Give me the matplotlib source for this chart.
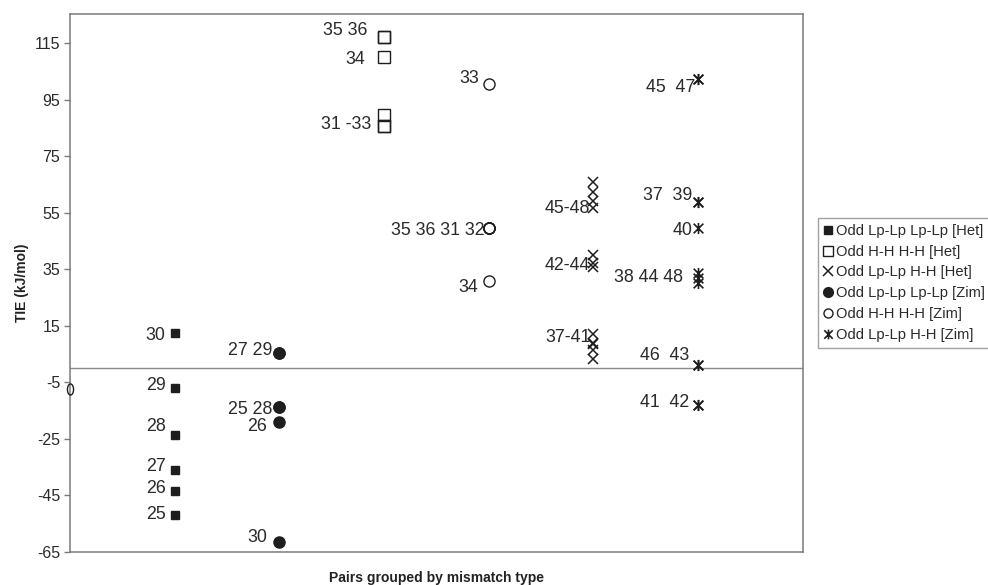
import matplotlib
matplotlib.use("Agg")
import matplotlib.pyplot as plt
from matplotlib.path import Path
from matplotlib.lines import Line2D
import numpy as np

plt.rcParams['font.family'] = ['Liberation Sans', 'DejaVu Sans']

# ---- data -------------------------------------------------------------
series_names = [
    "Odd Lp-Lp Lp-Lp [Het]",
    "Odd H-H H-H [Het]",
    "Odd Lp-Lp H-H [Het]",
    "Odd Lp-Lp Lp-Lp [Zim]",
    "Odd H-H H-H [Zim]",
    "Odd Lp-Lp H-H [Zim]",
]

# x position (mismatch group) and TIE value of every pair
het_lplp_x = [1, 1, 1, 1, 1, 1]
het_lplp_y = [12.3, -7.0, -23.6, -35.9, -43.4, -52.0]

het_hh_x = [3, 3, 3, 3, 3, 3]
het_hh_y = [117.1, 117.1, 110.3, 89.6, 85.9, 85.8]

het_lphh_x = [5] * 12
het_lphh_y = [66.0, 62.2, 59.2, 56.6, 40.0, 37.4, 35.9, 12.0, 9.0, 8.6, 6.4, 3.1]

zim_lplp_x = [2, 2, 2, 2, 2, 2]
zim_lplp_y = [5.2, 5.2, -13.7, -13.7, -19.1, -61.7]

zim_hh_x = [4, 4, 4, 4, 4, 4, 0]
zim_hh_y = [100.5, 49.5, 49.5, 49.5, 49.5, 30.9, -7.4]

zim_lphh_x = [6] * 12
zim_lphh_y = [102.3, 102.3, 58.9, 58.9, 49.5, 33.6, 32.0, 30.0, 1.1, 1.1, -13.0, -13.0]

# pair-number labels: text, group, vertical position (kJ/mol)
label_text = ["30", "29", "28", "27", "26", "25",
              "27 29", "25 28", "26", "30",
              "35 36", "34", "31 -33",
              "33", "35 36 31 32", "34",
              "45-48", "42-44", "37-41",
              "45  47", "37  39", "40", "38 44 48", "46  43", "41  42"]
label_group = [1, 1, 1, 1, 1, 1,
               2, 2, 2, 2,
               3, 3, 3,
               4, 4, 4,
               5, 5, 5,
               6, 6, 6, 6, 6, 6]
label_y = [11.7, -6.3, -20.8, -35.0, -42.5, -51.7,
           6.4, -14.8, -20.8, -59.8,
           119.4, 109.4, 86.1,
           102.4, 48.9, 28.7,
           56.6, 36.5, 10.7,
           99.2, 61.3, 48.9, 32.2, 4.3, -12.0]
# horizontal gap (pixels) between label end and the marker column
label_gap = [9, 9, 9, 9, 9, 9,
             7, 7, 12, 12,
             17, 19, 13,
             10, 4, 11,
             3, 3, 3,
             3, 6, 6, 15, 9, 9]

y_ticks = [115, 95, 75, 55, 35, 15, -5, -25, -45, -65]

# ---- figure -----------------------------------------------------------
W, H = 988, 585
fig = plt.figure(figsize=(W / 100, H / 100), dpi=100)
ax = fig.add_axes([70 / W, 1 - 551.7 / H, (802.7 - 70) / W, (551.7 - 14) / H])

ink = "#1e1e1e"
axis_gray = "#7a7a7a"

# Excel-style star marker: an X with a vertical stroke through it
star = Path([(-1, -1), (1, 1), (-1, 1), (1, -1), (0, -1.15), (0, 1.15)],
            [Path.MOVETO, Path.LINETO, Path.MOVETO, Path.LINETO,
             Path.MOVETO, Path.LINETO])
# narrow open ellipse for the point sitting on the axis
circ = Path.unit_circle()
narrow = Path(circ.vertices * np.array([0.55, 1.0]), circ.codes)

styles = [
    dict(marker="s", ms=5.5, mfc=ink, mec=ink, mew=1.0),
    dict(marker="s", ms=8, mfc="none", mec=ink, mew=1.0),
    dict(marker="x", ms=7.5, mfc="none", mec=ink, mew=1.1),
    dict(marker="o", ms=8, mfc=ink, mec=ink, mew=1.0),
    dict(marker="o", ms=8, mfc="none", mec=ink, mew=1.0),
    dict(marker=star, ms=8, mfc="none", mec=ink, mew=1.2),
]

data = [
    (het_lplp_x, het_lplp_y),
    (het_hh_x, het_hh_y),
    (het_lphh_x, het_lphh_y),
    (zim_lplp_x, zim_lplp_y),
    (zim_hh_x[:-1], zim_hh_y[:-1]),
    (zim_lphh_x, zim_lphh_y),
]
for (xs, ys), st in zip(data, styles):
    ax.plot(xs, ys, linestyle="none", zorder=3, **st)

# the stray Zim H-H point on the vertical axis
ax.plot(zim_hh_x[-1:], zim_hh_y[-1:], linestyle="none", marker=narrow, ms=8,
        mfc="none", mec=ink, mew=1.0, clip_on=False, zorder=4)

# pair labels
for txt, g, yv, gap in zip(label_text, label_group, label_y, label_gap):
    ax.annotate(txt, xy=(g, yv), xytext=(-gap * 0.72, 0), textcoords="offset points",
                ha="right", va="center", fontsize=12.8, color="#2a2a2a", zorder=5)

ax.axhline(0, color="#8a8a8a", lw=1.0, zorder=1)

ax.set_xlim(0, 7)
ax.set_ylim(-65, 125.4)
ax.set_yticks(y_ticks)
ax.set_yticklabels([str(t) for t in y_ticks], fontsize=11.5, color="#2a2a2a")
ax.set_xticks([])
ax.tick_params(axis="y", direction="out", length=4, width=1, color=axis_gray, pad=3)
for sp in ax.spines.values():
    sp.set_color(axis_gray)
    sp.set_linewidth(1.1)

ax.set_ylabel("TIE (kJ/mol)", fontsize=10, fontweight="bold", color="#222222", labelpad=4)
ax.set_xlabel("Pairs grouped by mismatch type", fontsize=10, fontweight="bold",
              color="#222222", labelpad=14)

# legend
handles = [
    Line2D([], [], linestyle="none", marker="s", ms=5.5, mfc=ink, mec=ink),
    Line2D([], [], linestyle="none", marker="s", ms=7, mfc="none", mec=ink, mew=1.0),
    Line2D([], [], linestyle="none", marker="x", ms=7, mfc="none", mec=ink, mew=1.1),
    Line2D([], [], linestyle="none", marker="o", ms=7, mfc=ink, mec=ink),
    Line2D([], [], linestyle="none", marker="o", ms=6.5, mfc="none", mec=ink, mew=1.0),
    Line2D([], [], linestyle="none", marker=star, ms=7, mfc="none", mec=ink, mew=1.2),
]
leg = fig.legend(handles, series_names, loc="upper left",
                 bbox_to_anchor=(818 / W, 1 - 218 / H), fontsize=10.6,
                 frameon=True, fancybox=False, edgecolor="#8a8a8a",
                 handlelength=0.6, handletextpad=0.2, labelspacing=0.46,
                 borderpad=0.4, borderaxespad=0)
for t in leg.get_texts():
    t.set_color("#2a2a2a")
leg.get_frame().set_linewidth(1.0)

fig.savefig("out.png", dpi=100, facecolor="white")
